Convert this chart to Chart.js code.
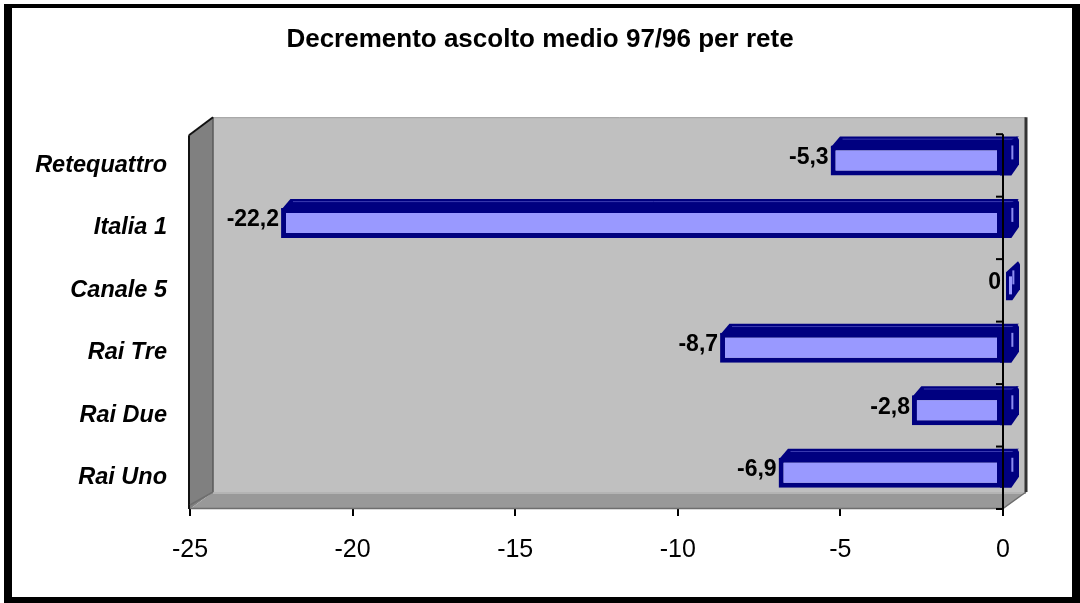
<!DOCTYPE html>
<html><head><meta charset="utf-8">
<script src="https://cdn.jsdelivr.net/npm/chart.js@4"></script>
<style>
html,body{margin:0;padding:0;background:#fff;}
#wrap{position:relative;width:1080px;height:603px;overflow:hidden;}
#frame{position:absolute;left:4px;top:4px;width:1076px;height:599px;box-sizing:border-box;border-style:solid;border-color:#000;border-width:4px 8px 6px 8px;pointer-events:none;}
canvas{position:absolute;left:0;top:0;}
</style></head><body>
<div id="wrap"><canvas id="c" width="1080" height="603"></canvas><div id="frame"></div></div>
<script>
const categories = ['Retequattro', 'Italia 1', 'Canale 5', 'Rai Tre', 'Rai Due', 'Rai Uno'];
const values = [-5.3, -22.2, 0, -8.7, -2.8, -6.9];
const xMin = -25, xMax = 0, xStep = 5;
const chartTitle = 'Decremento ascolto medio 97/96 per rete';

const NAVY = '#000080';
const FACE = '#9999ff';
const WALL = {dx: 23, dy: -17};
const BAR3D = {dx: 17, dy: -9, shift: -5};

Chart.defaults.font.family = '"Liberation Sans", Arial, sans-serif';
Chart.defaults.color = '#000';

const threeD = {
  id: 'threeD',
  beforeDatasetsDraw(chart) {
    const ctx = chart.ctx;
    const {left: L, right: R, top: T, bottom: B} = chart.chartArea;
    const wx = WALL.dx, wy = WALL.dy;
    ctx.save();
    // back wall
    ctx.fillStyle = '#c0c0c0';
    ctx.beginPath();
    ctx.moveTo(L + wx, T + wy); ctx.lineTo(R + wx, T + wy); ctx.lineTo(R + wx, B + wy); ctx.lineTo(L + wx, B + wy);
    ctx.closePath(); ctx.fill();
    ctx.strokeStyle = '#a0a0a0'; ctx.lineWidth = 1;
    ctx.beginPath(); ctx.moveTo(L + wx, T + wy + 0.5); ctx.lineTo(R + wx, T + wy + 0.5); ctx.stroke();
    // left wall
    ctx.fillStyle = '#808080';
    ctx.beginPath();
    ctx.moveTo(L, T + 1); ctx.lineTo(L + wx, T + wy); ctx.lineTo(L + wx, B + wy); ctx.lineTo(L, B);
    ctx.closePath(); ctx.fill();
    ctx.strokeStyle = '#5a5a5a'; ctx.lineWidth = 1.5;
    ctx.beginPath(); ctx.moveTo(L + wx, T + wy); ctx.lineTo(L + wx, B + wy); ctx.stroke();
    ctx.strokeStyle = '#111'; ctx.lineWidth = 2;
    ctx.beginPath(); ctx.moveTo(L - 1, T + 1); ctx.lineTo(L - 1, B); ctx.stroke();
    ctx.beginPath(); ctx.moveTo(L - 1, T + 1); ctx.lineTo(L + wx, T + wy); ctx.stroke();
    // floor
    ctx.fillStyle = '#999999';
    ctx.beginPath();
    ctx.moveTo(L, B); ctx.lineTo(L + wx, B + wy); ctx.lineTo(R + wx, B + wy); ctx.lineTo(R, B);
    ctx.closePath(); ctx.fill();
    ctx.strokeStyle = '#b4b4b4'; ctx.lineWidth = 2;
    ctx.beginPath(); ctx.moveTo(L + wx, B + wy + 1); ctx.lineTo(R + wx, B + wy + 1); ctx.stroke();
    ctx.strokeStyle = '#6e6e6e'; ctx.lineWidth = 1.5;
    ctx.beginPath(); ctx.moveTo(L + wx, B + wy); ctx.lineTo(L, B - 4); ctx.stroke();
    ctx.beginPath(); ctx.moveTo(L, B - 0.5); ctx.lineTo(R, B - 0.5); ctx.lineTo(R + wx, B + wy); ctx.stroke();
    // right edge of back wall
    ctx.strokeStyle = '#333'; ctx.lineWidth = 3;
    ctx.beginPath(); ctx.moveTo(R + wx, T + wy); ctx.lineTo(R + wx, B + wy); ctx.stroke();
    ctx.restore();

    // bar depth (top faces and end caps); the library then draws the front faces
    ctx.save();
    ctx.translate(0, BAR3D.shift);
    const bx = BAR3D.dx, by = BAR3D.dy;
    chart.getDatasetMeta(0).data.forEach(el => {
      const p = el.getProps(['x', 'y', 'base', 'height'], true);
      const top = p.y - p.height / 2, bot = p.y + p.height / 2;
      const left = Math.min(p.x, p.base), right = Math.max(p.x, p.base);
      ctx.fillStyle = NAVY;
      if (right - left > 1) {
        ctx.beginPath();
        ctx.moveTo(left, top + 2); ctx.lineTo(left + bx * 0.55, top + by); ctx.lineTo(right + bx, top + by); ctx.lineTo(right, top + 2);
        ctx.closePath(); ctx.fill();
        ctx.strokeStyle = '#3b3bb0'; ctx.lineWidth = 1;
        ctx.beginPath(); ctx.moveTo(left + bx * 0.7, top + by * 0.7); ctx.lineTo(right + bx * 0.7, top + by * 0.7); ctx.stroke();
      }
      const capL = right - (right - left > 1 ? 2 : -3);
      ctx.fillStyle = NAVY;
      ctx.beginPath();
      ctx.moveTo(capL, top + 2); ctx.lineTo(right + bx - 2, top + by); ctx.lineTo(right + bx, top + by + 3);
      ctx.lineTo(right + bx, bot + by - 2); ctx.lineTo(right + bx * 0.55, bot); ctx.lineTo(capL, bot);
      ctx.closePath(); ctx.fill();
      ctx.fillStyle = '#8c8cf0';
      ctx.fillRect(right + bx * 0.55, top + by + 9, 2, p.height - 16);
      if (right - left <= 1) {
        ctx.fillStyle = FACE;
        ctx.fillRect(capL + 3, top + 6, 3, p.height - 12);
      }
    });
  },
  afterDatasetsDraw(chart) {
    const ctx = chart.ctx;
    ctx.restore();
    const {top: T, bottom: B} = chart.chartArea;
    const xs = chart.scales.x;
    const x0 = xs.getPixelForValue(0);
    ctx.save();
    ctx.strokeStyle = '#000'; ctx.lineWidth = 2;
    ctx.beginPath(); ctx.moveTo(x0, T); ctx.lineTo(x0, B); ctx.stroke();
    const n = categories.length;
    for (let i = 0; i <= n; i++) {
      const yb = T + i * (B - T) / n;
      ctx.beginPath(); ctx.moveTo(x0 - 7, yb); ctx.lineTo(x0, yb); ctx.stroke();
    }
    // data labels
    ctx.fillStyle = '#000';
    ctx.font = 'bold 23px "Liberation Sans", Arial, sans-serif';
    ctx.textAlign = 'right'; ctx.textBaseline = 'middle';
    chart.getDatasetMeta(0).data.forEach((el, i) => {
      const txt = String(values[i]).replace('.', ',');
      ctx.fillText(txt, el.x - 2, el.y - 8);
    });
    ctx.restore();
  }
};

new Chart(document.getElementById('c'), {
  type: 'bar',
  data: {
    labels: categories,
    datasets: [{
      data: values,
      backgroundColor: FACE,
      borderColor: NAVY,
      borderWidth: 5,
      borderSkipped: false,
      barPercentage: 0.48,
      categoryPercentage: 1
    }]
  },
  options: {
    indexAxis: 'y',
    responsive: false,
    animation: false,
    devicePixelRatio: 1,
    layout: {padding: {left: 0, right: 0, top: 0, bottom: 19}},
    plugins: {
      legend: {display: false},
      tooltip: {enabled: false},
      title: {
        display: true,
        text: chartTitle,
        color: '#000',
        font: {size: 26, weight: 'bold'},
        padding: {top: 24, bottom: 79}
      }
    },
    scales: {
      x: {
        type: 'linear',
        min: xMin, max: xMax,
        ticks: {stepSize: xStep, color: '#000', font: {size: 25}, padding: 19},
        grid: {drawOnChartArea: false, drawTicks: true, tickLength: 7, color: '#000', lineWidth: 2},
        border: {display: false}
      },
      y: {
        ticks: {color: '#000', font: {size: 23.5, weight: 'bold', style: 'italic'}, padding: 23},
        grid: {display: false, drawTicks: false},
        border: {display: false},
        afterFit(scale) { scale.width = 190; }
      },
      yRight: {
        type: 'category',
        axis: 'y',
        position: 'right',
        labels: categories,
        offset: true,
        ticks: {display: false},
        grid: {display: false, drawTicks: false},
        border: {display: false},
        afterFit(scale) { scale.width = 77; }
      }
    }
  },
  plugins: [threeD]
});
</script>
</body></html>
